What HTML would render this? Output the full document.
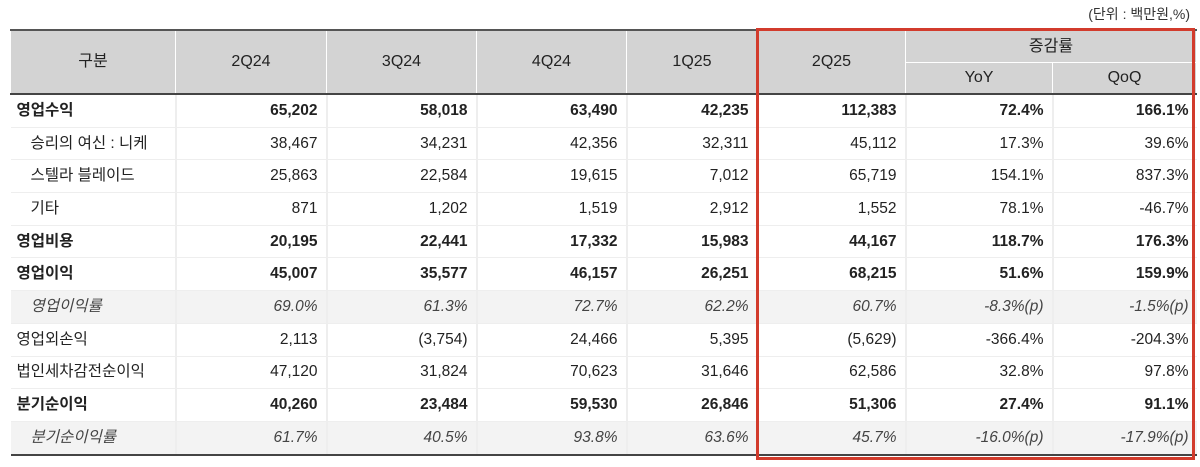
<!DOCTYPE html>
<html><head><meta charset="utf-8"><style>
body{margin:0;width:1200px;height:467px;background:#fff;font-family:"Liberation Sans","Noto Sans CJK KR",sans-serif;color:#222;position:relative;overflow:hidden}
.unit{position:absolute;right:10px;top:4px;font-size:14px;color:#333}
.top{position:absolute;left:150px;top:-10px;font-size:15px;color:#888}
table{position:absolute;left:10px;top:29px;border-collapse:collapse;table-layout:fixed;font-size:15.5px}
th{background:#d3d3d3;font-weight:normal;border:1px solid #fff;font-size:16px;color:#222;padding:0;line-height:18px}
thead{border-top:2px solid #555}
th[rowspan],thead tr:last-child th{border-bottom:2px solid #444}
td{height:31.7px;padding:0 8px;text-align:right;border-left:2px solid #eee;border-bottom:1px solid #eee;line-height:18px}
td:first-child{text-align:left;border-left:none;padding-left:6px}
tr.b td{font-weight:bold}
tr.i td{font-style:italic;background:#f3f3f3;color:#444}
td.s{padding-left:20px}
tbody tr:last-child td{border-bottom:2px solid #444}
.red{position:absolute;left:756px;top:28px;width:433px;height:426px;border:3px solid #d23b2c}
</style></head><body>
<div class="top">· · · · · · · · · · · · · · · · · · · · · · · · · · · ·</div>
<div class="unit">(단위 : 백만원,%)</div>
<table>
<colgroup><col style="width:165px"><col style="width:151px"><col style="width:150px"><col style="width:150px"><col style="width:131px"><col style="width:148px"><col style="width:147px"><col style="width:144px"></colgroup>
<thead>
<tr><th rowspan="2">구분</th><th rowspan="2">2Q24</th><th rowspan="2">3Q24</th><th rowspan="2">4Q24</th><th rowspan="2">1Q25</th><th rowspan="2">2Q25</th><th colspan="2" style="height:31px">증감률</th></tr>
<tr><th style="height:30px">YoY</th><th>QoQ</th></tr>
</thead>
<tbody>
<tr class="b"><td>영업수익</td><td>65,202</td><td>58,018</td><td>63,490</td><td>42,235</td><td>112,383</td><td>72.4%</td><td>166.1%</td></tr>
<tr><td class="s">승리의 여신 : 니케</td><td>38,467</td><td>34,231</td><td>42,356</td><td>32,311</td><td>45,112</td><td>17.3%</td><td>39.6%</td></tr>
<tr><td class="s">스텔라 블레이드</td><td>25,863</td><td>22,584</td><td>19,615</td><td>7,012</td><td>65,719</td><td>154.1%</td><td>837.3%</td></tr>
<tr><td class="s">기타</td><td>871</td><td>1,202</td><td>1,519</td><td>2,912</td><td>1,552</td><td>78.1%</td><td>-46.7%</td></tr>
<tr class="b"><td>영업비용</td><td>20,195</td><td>22,441</td><td>17,332</td><td>15,983</td><td>44,167</td><td>118.7%</td><td>176.3%</td></tr>
<tr class="b"><td>영업이익</td><td>45,007</td><td>35,577</td><td>46,157</td><td>26,251</td><td>68,215</td><td>51.6%</td><td>159.9%</td></tr>
<tr class="i"><td class="s">영업이익률</td><td>69.0%</td><td>61.3%</td><td>72.7%</td><td>62.2%</td><td>60.7%</td><td>-8.3%(p)</td><td>-1.5%(p)</td></tr>
<tr><td>영업외손익</td><td>2,113</td><td>(3,754)</td><td>24,466</td><td>5,395</td><td>(5,629)</td><td>-366.4%</td><td>-204.3%</td></tr>
<tr><td>법인세차감전순이익</td><td>47,120</td><td>31,824</td><td>70,623</td><td>31,646</td><td>62,586</td><td>32.8%</td><td>97.8%</td></tr>
<tr class="b"><td>분기순이익</td><td>40,260</td><td>23,484</td><td>59,530</td><td>26,846</td><td>51,306</td><td>27.4%</td><td>91.1%</td></tr>
<tr class="i"><td class="s">분기순이익률</td><td>61.7%</td><td>40.5%</td><td>93.8%</td><td>63.6%</td><td>45.7%</td><td>-16.0%(p)</td><td>-17.9%(p)</td></tr>
</tbody>
</table>
<div class="red"></div>
</body></html>
